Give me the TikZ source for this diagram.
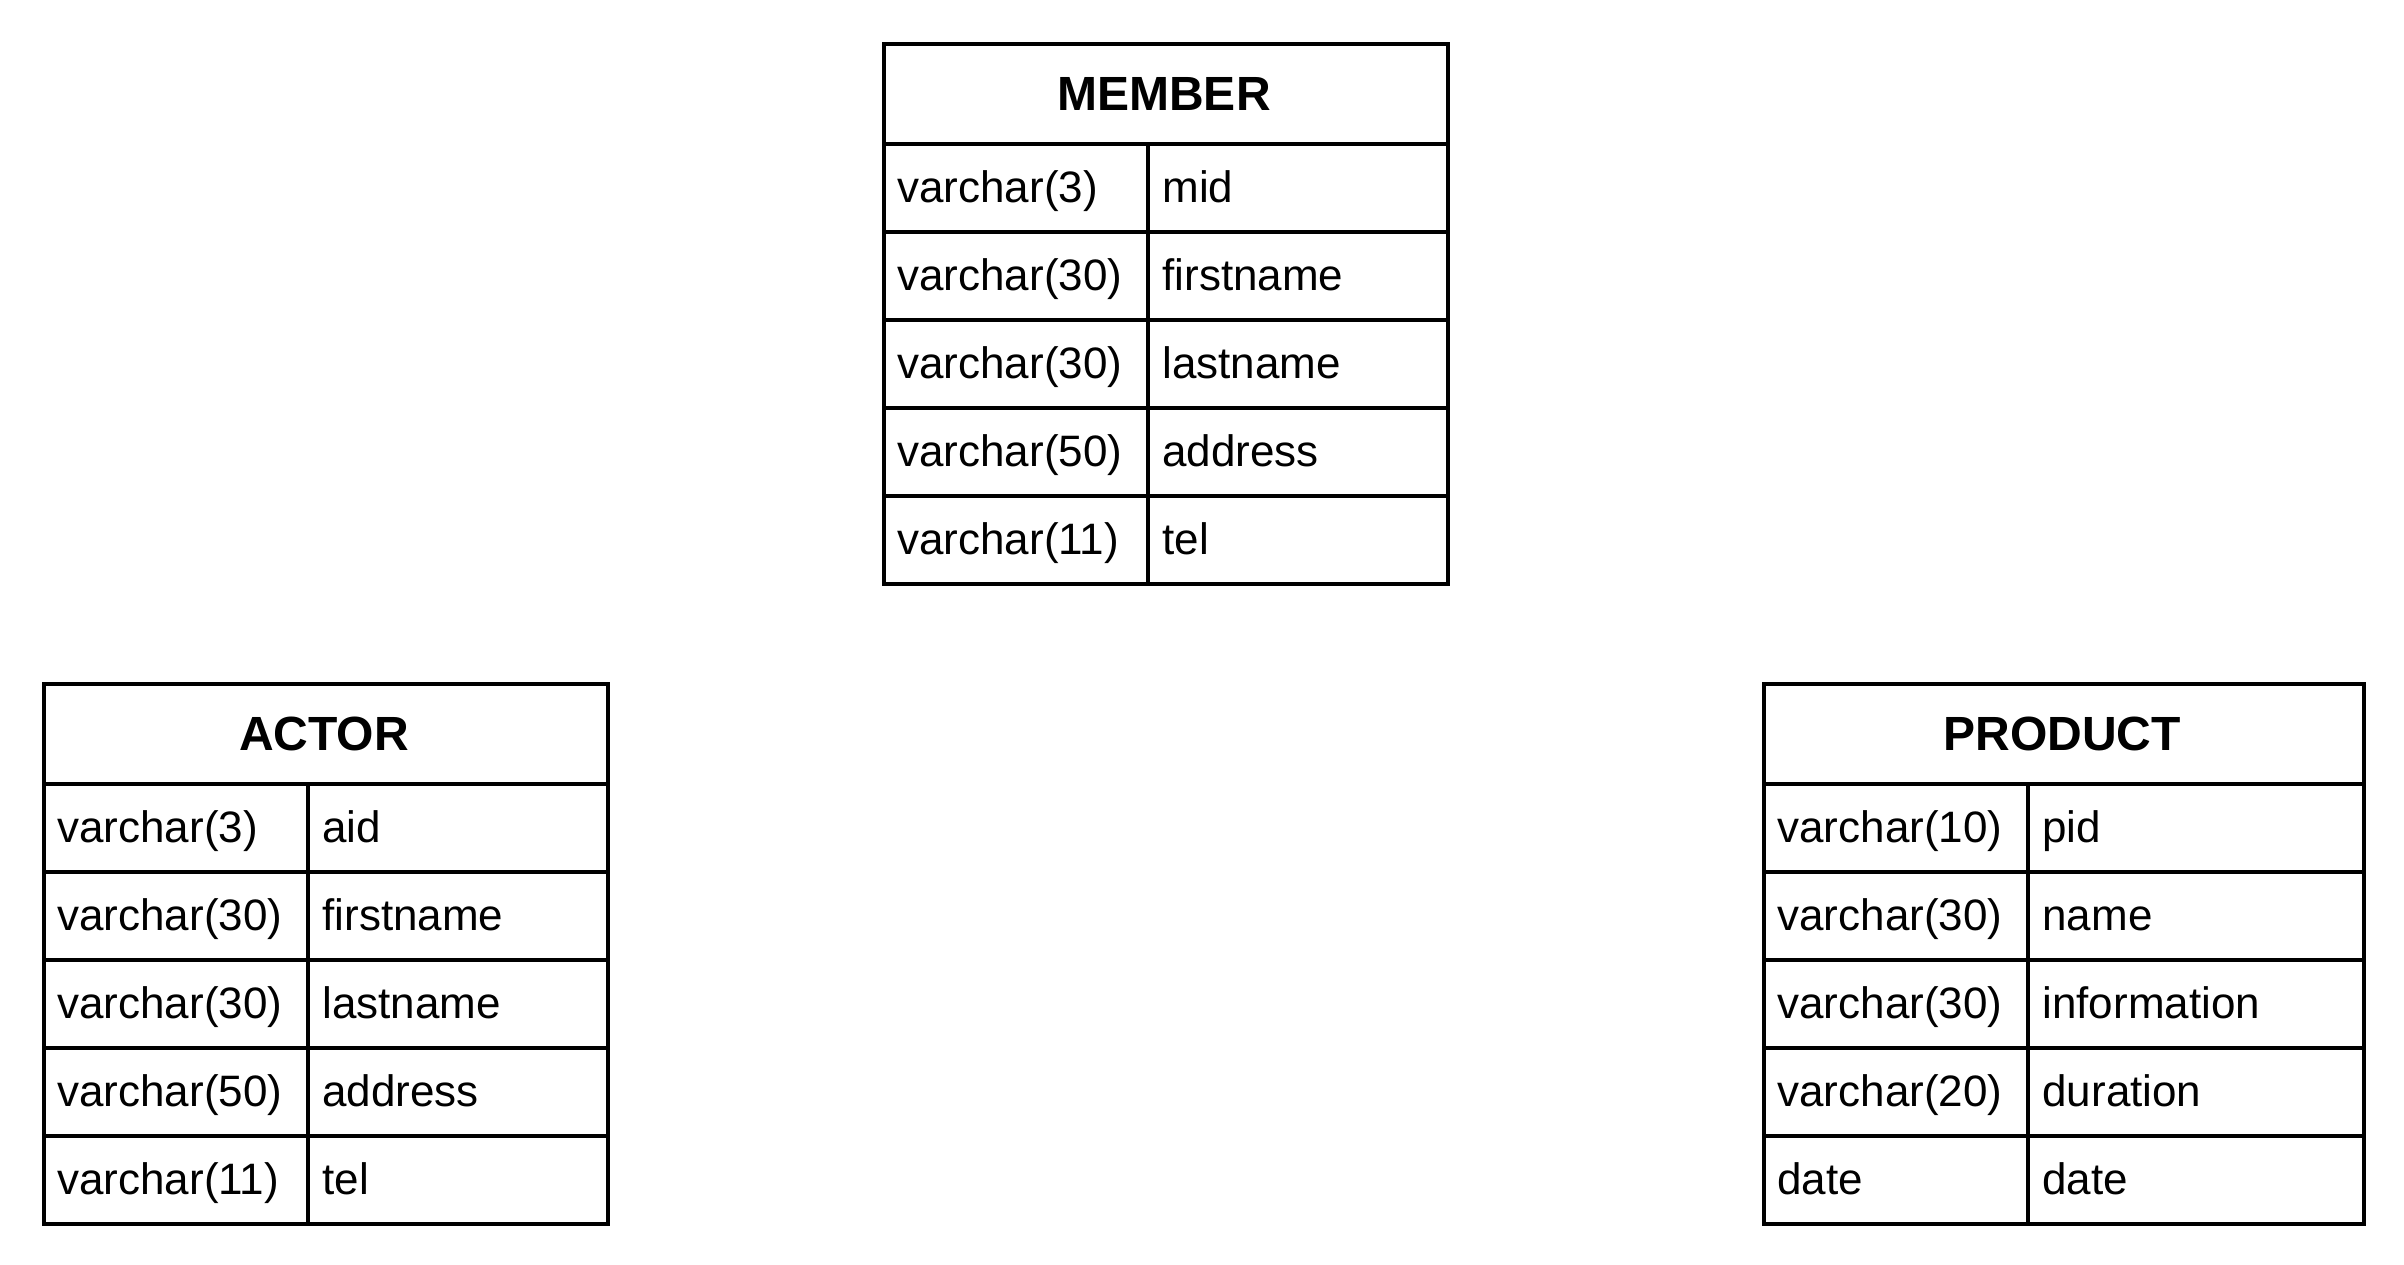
\documentclass[tikz,border=0pt]{standalone}
\usepackage{fontspec}
\setmainfont{Liberation Sans}
\tikzset{
 cellbox/.style={draw=black, line width=2pt, minimum height=44pt, inner sep=0pt, anchor=north west},
 hdrbox/.style={draw=black, line width=2pt, minimum height=50pt, inner sep=0pt, anchor=north west},
 hdrtext/.style={font=\bfseries\fontsize{24}{28}\selectfont, anchor=base, inner sep=0pt},
 celltext/.style={font=\fontsize{22}{26}\selectfont, anchor=base west, inner sep=0pt},
}
\newcommand{\ertable}[7]{%
  \node[hdrbox, minimum width=#4pt+#5pt] (#1-head) at (#2,#3) {};
  \node[hdrtext] (#1-title) at ({#2+(#4+#5)/2},{#3-34}) {#6};
  \foreach [count=\i] \typ/\nam in {#7} {
    \pgfmathsetmacro{\rowtop}{#3-50-(\i-1)*44}
    \node[cellbox, minimum width=#4pt] (#1-type-\i) at (#2,\rowtop) {};
    \node[cellbox, minimum width=#5pt] (#1-name-\i) at ({#2+#4},\rowtop) {};
    \node[celltext] (#1-typetext-\i) at ({#2+7.5},{\rowtop-30}) {\typ};
    \node[celltext] (#1-nametext-\i) at ({#2+#4+8},{\rowtop-30}) {\nam};
  }%
}
\begin{document}
\begin{tikzpicture}[x=1pt,y=1pt]
\fill[white] (0,0) rectangle (1202,-632);
\useasboundingbox (0,0) rectangle (1202,-632);
\ertable{member}{441}{-21}{132}{150}{MEMBER}{varchar(3)/mid, varchar(30)/firstname, varchar(30)/lastname, varchar(50)/address, varchar(11)/tel}
\ertable{actor}{21}{-341}{132}{150}{ACTOR}{varchar(3)/aid, varchar(30)/firstname, varchar(30)/lastname, varchar(50)/address, varchar(11)/tel}
\ertable{product}{881}{-341}{132}{168}{PRODUCT}{varchar(10)/pid, varchar(30)/name, varchar(30)/information, varchar(20)/duration, date/date}
\end{tikzpicture}
\end{document}
